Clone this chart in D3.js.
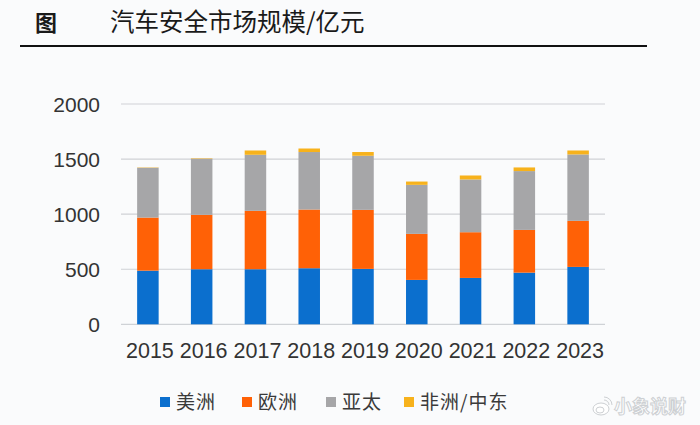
<!DOCTYPE html>
<html><head><meta charset="utf-8">
<script src="https://cdn.jsdelivr.net/npm/d3@7"></script>
<style>
html,body{margin:0;padding:0;background:#fafbfc;}
svg{display:block;}
</style></head>
<body>
<svg id="chart" width="700" height="425"></svg>
<script>
const years = ["2015","2016","2017","2018","2019","2020","2021","2022","2023"];
const seriesNames = ["美洲","欧洲","亚太","非洲/中东"];
const americas = [487, 500, 500, 509, 503, 403, 421, 469, 521];
const europe   = [482, 494, 530, 533, 536, 418, 415, 388, 418];
const apac     = [452, 509, 509, 522, 491, 445, 479, 534, 603];
const mea      = [3, 4, 39, 32, 34, 30, 36, 33, 36];
const yTicks = [0, 500, 1000, 1500, 2000];
const colors = ["#0b6fce", "#ff6106", "#a6a6a8", "#f7b21c"];

const svg = d3.select("#chart");
const W = 700, H = 425;
svg.append("rect").attr("width", W).attr("height", H).attr("fill", "#fafbfc");

// Title
svg.append("text").attr("x", 35).attr("y", 31)
  .attr("font-family", "'Noto Sans CJK SC'").attr("font-size", 22).attr("font-weight", 700)
  .attr("fill", "#1a1a1a").text("图");
svg.append("text").attr("x", 110).attr("y", 31)
  .attr("font-family", "'Noto Sans CJK SC'").attr("font-size", 24.5).attr("font-weight", 400)
  .attr("fill", "#1a1a1a").text("汽车安全市场规模/亿元");
svg.append("line").attr("x1", 20).attr("x2", 647).attr("y1", 46).attr("y2", 46)
  .attr("stroke", "#111").attr("stroke-width", 2);

const x = d3.scaleBand().domain(years).range([121, 605]).paddingInner(0.6).paddingOuter(0.3);
const y = d3.scaleLinear().domain([0, 2000]).range([324.3, 104]);

// Grid
svg.append("g").selectAll("line").data(yTicks).join("line")
  .attr("x1", 121).attr("x2", 605)
  .attr("y1", d => y(d)).attr("y2", d => y(d))
  .attr("stroke", "#cfd2d6").attr("stroke-width", 1.2);

// Y axis labels
const yAxis = d3.axisLeft(y).tickValues(yTicks).tickSize(0).tickPadding(0).tickFormat(d3.format("d"));
const gy = svg.append("g").attr("transform", "translate(100,0)").call(yAxis);
gy.select(".domain").remove();
gy.selectAll("text").attr("font-family", "'Liberation Sans', Arial, sans-serif")
  .attr("font-size", 21).attr("fill", "#333").attr("dy", "0.36em");

// X axis labels
const xAxis = d3.axisBottom(x).tickSize(0).tickPadding(0);
const gx = svg.append("g").attr("transform", "translate(2,358)").call(xAxis);
gx.select(".domain").remove();
gx.selectAll("text").attr("font-family", "'Liberation Sans', Arial, sans-serif")
  .attr("font-size", 21.5).attr("fill", "#333").attr("dy", "0");

// Stacked bars
const table = years.map((yr, i) => ({year: yr, s0: americas[i], s1: europe[i], s2: apac[i], s3: mea[i]}));
const stack = d3.stack().keys(["s0","s1","s2","s3"])(table);
svg.append("g").selectAll("g").data(stack).join("g")
  .attr("fill", (d, i) => colors[i])
  .selectAll("rect").data(d => d).join("rect")
  .attr("x", d => x(d.data.year))
  .attr("width", x.bandwidth())
  .attr("y", d => y(d[1]))
  .attr("height", d => y(d[0]) - y(d[1]));

// Legend
const legendX = [160, 242, 326, 404];
const lg = svg.append("g");
seriesNames.forEach((name, i) => {
  lg.append("rect").attr("x", legendX[i]).attr("y", 397).attr("width", 10).attr("height", 10).attr("fill", colors[i]);
  lg.append("text").attr("x", legendX[i] + 16).attr("y", 409)
    .attr("font-family", "'Noto Sans CJK SC'").attr("font-size", 19).attr("fill", "#3a3a3a")
    .attr("letter-spacing", 1).text(name);
});

// Watermark
const wm = svg.append("g").attr("fill", "#fff").attr("stroke", "#cdd0d3").attr("stroke-width", 1);
wm.append("ellipse").attr("cx", 601).attr("cy", 409).attr("rx", 8).attr("ry", 6);
wm.append("ellipse").attr("cx", 600).attr("cy", 410).attr("rx", 4).attr("ry", 3);
wm.append("path").attr("d", "M604,397 a8,8 0 0 1 8,8").attr("fill", "none");
wm.append("path").attr("d", "M604,400 a5,5 0 0 1 5,5").attr("fill", "none");
wm.append("text").attr("x", 614).attr("y", 413)
  .attr("font-family", "'Noto Sans CJK SC'").attr("font-size", 18).attr("font-weight", 700)
  .text("小象说财");
</script>
</body></html>
